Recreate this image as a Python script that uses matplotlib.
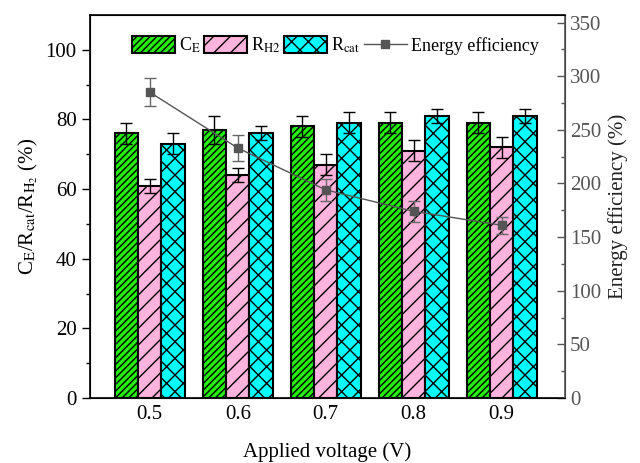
import matplotlib
matplotlib.use("Agg")
import matplotlib.pyplot as plt
from matplotlib.lines import Line2D
import numpy as np

plt.rcParams["font.family"] = ["Liberation Serif", "DejaVu Serif"]
plt.rcParams["mathtext.fontset"] = "stix"
plt.rcParams["hatch.linewidth"] = 1.0

voltage = [0.5, 0.6, 0.7, 0.8, 0.9]
ce = [76, 77, 78, 79, 79]
ce_err = [3, 4, 3, 3, 3]
rh2 = [61, 64, 67, 71, 72]
rh2_err = [2, 2, 3, 3, 3]
rcat = [73, 76, 79, 81, 81]
rcat_err = [3, 2, 3, 2, 2]
energy = [285, 233, 194, 174, 161]
energy_err = [13, 12, 10, 10, 8]

fig = plt.figure(figsize=(6.4, 4.63), dpi=100)
ax = fig.add_axes([0.1406, 0.1404, 0.7422, 0.8272])
ax2 = ax.twinx()

x = np.array(voltage)
w = 0.0265
ekw = dict(ecolor="black", capsize=4, elinewidth=1.0, capthick=1.0)
b1 = ax.bar(x - w, ce, w, yerr=ce_err, color="#22ee00", edgecolor="black",
            linewidth=1.5, hatch="/////", error_kw=ekw, label=r"C$_\mathrm{E}$")
b2 = ax.bar(x, rh2, w, yerr=rh2_err, color="#ffb3dd", edgecolor="black",
            linewidth=1.5, hatch="//", error_kw=ekw, label=r"R$_\mathrm{H2}$")
b3 = ax.bar(x + w, rcat, w, yerr=rcat_err, color="#00ffff", edgecolor="black",
            linewidth=1.5, hatch="xx", error_kw=ekw, label=r"R$_\mathrm{cat}$")

gray = "#555555"
ax2.errorbar(x, energy, yerr=energy_err, color=gray, marker="s", ms=6,
             lw=1.0, ecolor="#666666", capsize=4, elinewidth=1.0)
ln = Line2D([], [], color=gray, marker="s", ms=6, lw=1.0)

ax.set_xlim(0.432, 0.972)
ax.set_ylim(0, 110)
ax2.set_ylim(0, 357)
ax.set_xticks(voltage)
ax.set_xticklabels([str(v) for v in voltage])
ax.set_yticks([0, 20, 40, 60, 80, 100])
ax.set_yticks(np.arange(10, 110, 20), minor=True)
ax2.set_yticks(np.arange(0, 351, 50))
ax2.set_yticks(np.arange(25, 351, 50), minor=True)

ax.tick_params(axis="x", length=0, labelsize=15, pad=5)
ax.tick_params(axis="y", which="major", direction="out", length=6, width=1, labelsize=15)
ax.tick_params(axis="y", which="minor", direction="out", length=3, width=1)
ax2.tick_params(axis="y", which="major", direction="in", length=6, width=1,
                colors=gray, labelsize=15)
ax2.tick_params(axis="y", which="minor", direction="in", length=3, width=1, colors=gray)
for s in ["left", "bottom", "top"]:
    ax.spines[s].set_linewidth(1.2)
ax2.spines["right"].set_color(gray)
ax2.spines["right"].set_linewidth(1.2)

ax.set_xlabel("Applied voltage (V)", fontsize=15, labelpad=13)
ax.set_ylabel(r"C$_\mathrm{E}$/R$_\mathrm{cat}$/R$_\mathrm{H_2}$ (%)", fontsize=15)
ax2.set_ylabel("Energy efficiency (%)", fontsize=15, color="#222222", labelpad=5)

ax.legend([b1, b2, b3, ln], [b1.get_label(), b2.get_label(), b3.get_label(), "Energy efficiency"],
          loc="center", bbox_to_anchor=(0.516, 0.92), ncol=4, frameon=False,
          fontsize=13, handlelength=2.4, handleheight=1.1, handletextpad=0.2,
          columnspacing=0.2, borderaxespad=0)

fig.savefig("out.png", dpi=100)
